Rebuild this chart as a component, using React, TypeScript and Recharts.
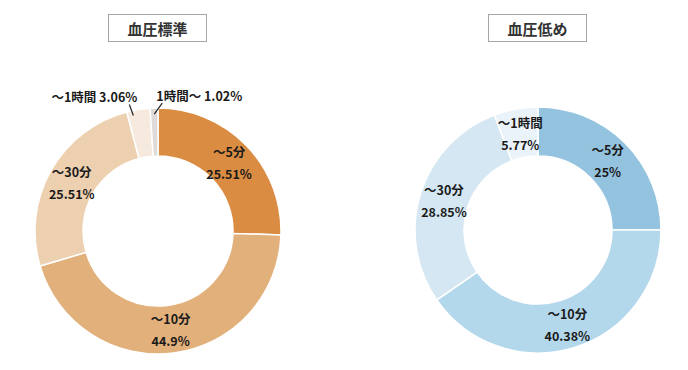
import React from 'react';
import { PieChart, Pie, Cell } from 'recharts';

const categoriesStandard = ['～5分', '～10分', '～30分', '～1時間', '1時間～'];
const valuesStandard = [25.51, 44.9, 25.51, 3.06, 1.02];
const colorsStandard = ['#D98C42', '#E2B07A', '#EDD0AF', '#F6E9DD', '#DEDBD8'];

const categoriesLow = ['～5分', '～10分', '～30分', '～1時間'];
const valuesLow = [25, 40.38, 28.85, 5.77];
const colorsLow = ['#94C3E0', '#B4D8EB', '#D4E7F2', '#EAF3F9'];

const titleStandard = '血圧標準';
const titleLow = '血圧低め';

const dataStandard = categoriesStandard.map((name, i) => ({ name, value: valuesStandard[i] }));
const dataLow = categoriesLow.map((name, i) => ({ name, value: valuesLow[i] }));

const RAD = Math.PI / 180;
const FONT = '"Noto Sans CJK JP", "Noto Sans", sans-serif';

const makeLabel = (count: number) => (props: any) => {
  const { cx, cy, midAngle, innerRadius, outerRadius, index, name, value } = props;
  const text = `${value}%`;
  if (value < 5) {
    const r1 = outerRadius - 6;
    const isRight = index === count - 1;
    let x1 = cx + r1 * Math.cos(-midAngle * RAD);
    const y1 = cy + r1 * Math.sin(-midAngle * RAD);
    if (!isRight) x1 -= 6;
    const x2 = isRight ? x1 + 8 : x1 - 4;
    const y2 = y1 - 11;
    return (
      <g>
        <line x1={x1} y1={y1} x2={x2} y2={y2} stroke="#222" strokeWidth={1.2} />
        <text
          x={isRight ? x2 - 6 : x2 + 8}
          y={y2 - 2}
          textAnchor={isRight ? 'start' : 'end'}
          fontSize={12.5}
          fontWeight="bold"
          fill="#1a1a1a"
          fontFamily={FONT}
        >
          {`${name} ${text}`}
        </text>
      </g>
    );
  }
  const r = (innerRadius + outerRadius) / 2;
  const x = cx + r * Math.cos(-midAngle * RAD);
  const y = cy + r * Math.sin(-midAngle * RAD);
  return (
    <g>
      <text x={x} y={y - 11} textAnchor="middle" dominantBaseline="central" fontSize={12.5} fontWeight="bold" fill="#1a1a1a" fontFamily={FONT}>
        {name}
      </text>
      <text x={x} y={y + 11} textAnchor="middle" dominantBaseline="central" fontSize={12.5} fontWeight="bold" fill="#1a1a1a" fontFamily={FONT}>
        {text}
      </text>
    </g>
  );
};

const titleStyle = (left: number): React.CSSProperties => ({
  position: 'absolute',
  left,
  top: 14,
  width: 99,
  height: 28,
  boxSizing: 'border-box',
  border: '1px solid #A6A6A6',
  background: '#fff',
  display: 'flex',
  alignItems: 'center',
  justifyContent: 'center',
  fontFamily: FONT,
  fontWeight: 'bold',
  fontSize: 15,
  color: '#333',
});

export default function App() {
  return (
    <div style={{ position: 'absolute', left: 0, top: 0, width: 688, height: 370, background: '#fff' }}>
      <PieChart width={688} height={370} margin={{ top: 0, right: 0, bottom: 0, left: 0 }}>
        <Pie
          data={dataStandard}
          dataKey="value"
          nameKey="name"
          cx={158}
          cy={231}
          innerRadius={75}
          outerRadius={123}
          startAngle={90}
          endAngle={-270}
          stroke="#fff"
          strokeWidth={1.5}
          label={makeLabel(dataStandard.length)}
          labelLine={false}
          isAnimationActive={false}
        >
          {dataStandard.map((d, i) => (
            <Cell key={d.name} fill={colorsStandard[i]} />
          ))}
        </Pie>
        <Pie
          data={dataLow}
          dataKey="value"
          nameKey="name"
          cx={538}
          cy={230}
          innerRadius={74}
          outerRadius={123}
          startAngle={90}
          endAngle={-270}
          stroke="#fff"
          strokeWidth={1.5}
          label={makeLabel(dataLow.length)}
          labelLine={false}
          isAnimationActive={false}
        >
          {dataLow.map((d, i) => (
            <Cell key={d.name} fill={colorsLow[i]} />
          ))}
        </Pie>
      </PieChart>
      <div style={titleStyle(108)}>{titleStandard}</div>
      <div style={titleStyle(488)}>{titleLow}</div>
    </div>
  );
}
